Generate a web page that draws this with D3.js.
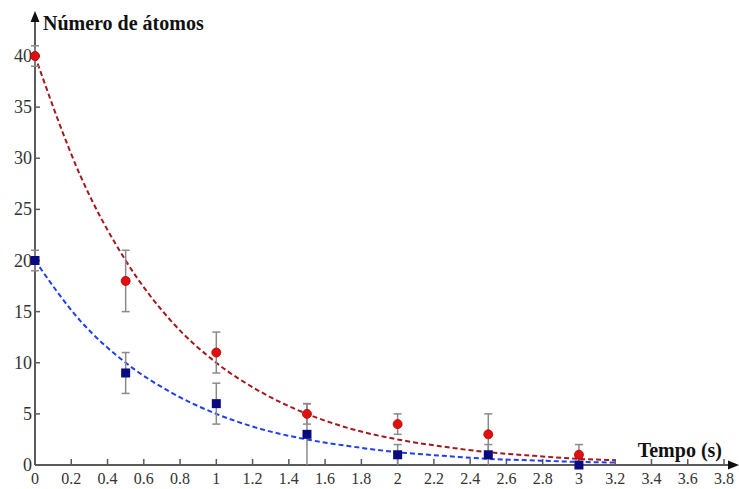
<!DOCTYPE html>
<html>
<head>
<meta charset="utf-8">
<script src="https://cdn.jsdelivr.net/npm/d3@7"></script>
<style>
body { margin: 0; background: #fff; }
</style>
</head>
<body>
<div id="chart"></div>
<script>
// measured points (t in s, N atoms, +/- error)
var tempo = [0, 0.5, 1, 1.5, 2, 2.5, 3];
var redN = [40, 18, 11, 5, 4, 3, 1];
var redErr = [1, 3, 2, 1, 1, 2, 1];
var blueN = [20, 9, 6, 3, 1, 1, 0];
var blueErr = [1, 2, 2, 3, 1, 1, 0];

// dashed fit curves
var tFit = [0, 0.25, 0.5, 0.75, 1, 1.25, 1.5, 1.75, 2, 2.25, 2.5, 2.75, 3, 3.2];
var redFit = [40, 28.3, 20, 14.1, 10, 7.1, 5, 3.5, 2.5, 1.8, 1.25, 0.9, 0.6, 0.47];
var blueFit = [20, 14.1, 10, 7.1, 5, 3.5, 2.5, 1.8, 1.25, 0.9, 0.6, 0.45, 0.3, 0.24];

var xTicks = [0.2, 0.4, 0.6, 0.8, 1, 1.2, 1.4, 1.6, 1.8, 2, 2.2, 2.4, 2.6, 2.8, 3, 3.2, 3.4, 3.6, 3.8];
var yTicks = [5, 10, 15, 20, 25, 30, 35, 40];

var width = 739, height = 489;
var svg = d3.select("#chart").append("svg")
	.attr("width", width)
	.attr("height", height);

var x = d3.scaleLinear().domain([0, 3.8]).range([35, 724]);
var y = d3.scaleLinear().domain([0, 40]).range([465, 56]);

var axisCol = "#5a5a5a";
var font = "'Liberation Serif', 'DejaVu Serif', serif";

// axes lines
svg.append("line").attr("x1", x(0)).attr("x2", 733).attr("y1", y(0)).attr("y2", y(0))
	.attr("stroke", axisCol).attr("stroke-width", 2);
svg.append("line").attr("x1", x(0)).attr("x2", x(0)).attr("y1", y(0)).attr("y2", 18)
	.attr("stroke", axisCol).attr("stroke-width", 2);
// arrow heads
svg.append("path").attr("d", "M" + (x(0) - 4.5) + ",22 L" + x(0) + ",11 L" + (x(0) + 4.5) + ",22 Z").attr("fill", "#111");
svg.append("path").attr("d", "M728," + (y(0) - 4.5) + " L739," + y(0) + " L728," + (y(0) + 4.5) + " Z").attr("fill", "#111");

// ticks
svg.selectAll(".xt").data(xTicks).enter().append("line")
	.attr("x1", function(d) { return x(d); }).attr("x2", function(d) { return x(d); })
	.attr("y1", y(0) - 6).attr("y2", y(0))
	.attr("stroke", axisCol).attr("stroke-width", 1.5);
svg.selectAll(".yt").data(yTicks).enter().append("line")
	.attr("x1", x(0)).attr("x2", x(0) + 5)
	.attr("y1", function(d) { return y(d); }).attr("y2", function(d) { return y(d); })
	.attr("stroke", axisCol).attr("stroke-width", 1.5);

// tick labels
svg.selectAll(".xl").data([0].concat(xTicks)).enter().append("text")
	.attr("x", function(d) { return x(d); })
	.attr("y", 484)
	.attr("text-anchor", "middle")
	.attr("font-family", font).attr("font-size", "16px").attr("fill", "#333")
	.text(function(d) { return String(d); });
svg.selectAll(".yl").data([0].concat(yTicks)).enter().append("text")
	.attr("x", x(0) - 3)
	.attr("y", function(d) { return y(d) + 6; })
	.attr("text-anchor", "end")
	.attr("font-family", font).attr("font-size", "18px").attr("fill", "#333")
	.text(function(d) { return String(d); });

// axis titles
svg.append("text").attr("x", 43).attr("y", 30)
	.attr("font-family", font).attr("font-size", "20px").attr("font-weight", "bold").attr("fill", "#111")
	.text("Número de átomos");
svg.append("text").attr("x", 722).attr("y", 457).attr("text-anchor", "end")
	.attr("font-family", font).attr("font-size", "20px").attr("font-weight", "bold").attr("fill", "#111")
	.text("Tempo (s)");

// fit curves
var fitLine = function(vals) {
	return d3.line()
		.x(function(d, i) { return x(tFit[i]); })
		.y(function(d) { return y(d); })
		.curve(d3.curveMonotoneX)(vals);
};
svg.append("path").attr("d", fitLine(redFit)).attr("fill", "none")
	.attr("stroke", "#a3191e").attr("stroke-width", 2).attr("stroke-dasharray", "5,3");
svg.append("path").attr("d", fitLine(blueFit)).attr("fill", "none")
	.attr("stroke", "#1f3ff0").attr("stroke-width", 2).attr("stroke-dasharray", "5,3");

// error bars
function errorBars(vals, errs) {
	var g = svg.append("g");
	tempo.forEach(function(t, i) {
		if (errs[i] == 0) return;
		var lo = Math.max(0, vals[i] - errs[i]), hi = vals[i] + errs[i];
		g.append("line").attr("x1", x(t)).attr("x2", x(t)).attr("y1", y(lo)).attr("y2", y(hi))
			.attr("stroke", "#8a8a8a").attr("stroke-width", 1.5);
		g.append("line").attr("x1", x(t) - 4).attr("x2", x(t) + 4).attr("y1", y(hi)).attr("y2", y(hi))
			.attr("stroke", "#8a8a8a").attr("stroke-width", 1.5);
		if (lo > 0) {
			g.append("line").attr("x1", x(t) - 4).attr("x2", x(t) + 4).attr("y1", y(lo)).attr("y2", y(lo))
				.attr("stroke", "#8a8a8a").attr("stroke-width", 1.5);
		}
	});
}
errorBars(redN, redErr);
errorBars(blueN, blueErr);

// markers
svg.selectAll(".sq").data(blueN).enter().append("rect")
	.attr("x", function(d, i) { return x(tempo[i]) - 4.5; })
	.attr("y", function(d) { return y(d) - 4.5; })
	.attr("width", 9).attr("height", 9)
	.attr("fill", "#0a0a80");
svg.selectAll(".ci").data(redN).enter().append("circle")
	.attr("cx", function(d, i) { return x(tempo[i]); })
	.attr("cy", function(d) { return y(d); })
	.attr("r", 4.5)
	.attr("fill", "#e01010").attr("stroke", "#b00000").attr("stroke-width", 0.8);
</script>
</body>
</html>
